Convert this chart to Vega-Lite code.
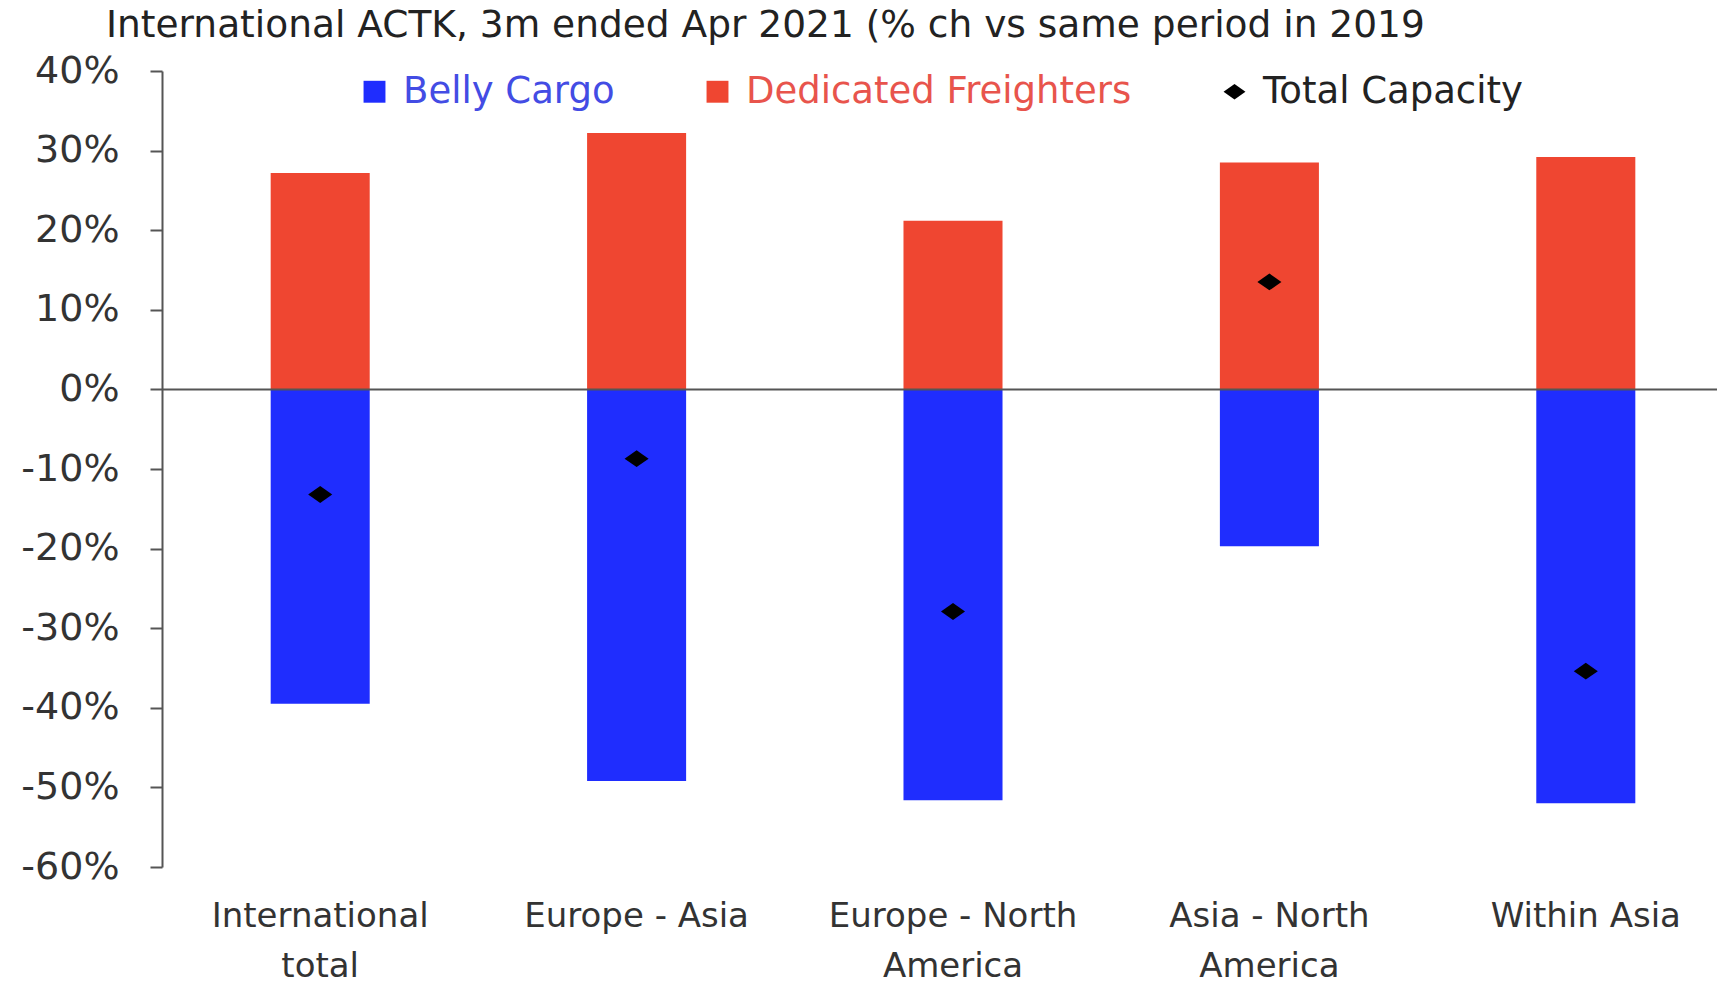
{
  "$schema": "https://vega.github.io/schema/vega-lite/v6.json",
  "autosize": "none",
  "width": 1582,
  "height": 796,
  "padding": {"left": 162, "top": 71, "right": 0, "bottom": 120},
  "background": "white",
  "view": {"stroke": null},
  "title": {
    "text": "International ACTK, 3m ended Apr 2021 (% ch vs same period in 2019",
    "anchor": "start",
    "frame": "group",
    "dx": -56,
    "offset": 8,
    "font": "DejaVu Sans",
    "fontSize": 37.5,
    "fontWeight": "normal",
    "color": "#222222"
  },
  "datasets": {
    "bars": [
      {"region": "International total", "series": "Belly Cargo", "value": -39.5},
      {"region": "International total", "series": "Dedicated Freighters", "value": 27.2},
      {"region": "Europe - Asia", "series": "Belly Cargo", "value": -49.2},
      {"region": "Europe - Asia", "series": "Dedicated Freighters", "value": 32.2},
      {"region": "Europe - North America", "series": "Belly Cargo", "value": -51.6},
      {"region": "Europe - North America", "series": "Dedicated Freighters", "value": 21.2},
      {"region": "Asia - North America", "series": "Belly Cargo", "value": -19.7},
      {"region": "Asia - North America", "series": "Dedicated Freighters", "value": 28.5},
      {"region": "Within Asia", "series": "Belly Cargo", "value": -52.0},
      {"region": "Within Asia", "series": "Dedicated Freighters", "value": 29.2}
    ],
    "total": [
      {"region": "International total", "series": "Total Capacity", "value": -13.2},
      {"region": "Europe - Asia", "series": "Total Capacity", "value": -8.7},
      {"region": "Europe - North America", "series": "Total Capacity", "value": -27.9},
      {"region": "Asia - North America", "series": "Total Capacity", "value": 13.5},
      {"region": "Within Asia", "series": "Total Capacity", "value": -35.4}
    ]
  },
  "layer": [
    {
      "data": {"name": "bars"},
      "mark": {"type": "bar"},
      "encoding": {
        "x": {
          "field": "region",
          "type": "nominal",
          "sort": ["International total", "Europe - Asia", "Europe - North America", "Asia - North America", "Within Asia"],
          "scale": {"paddingInner": 0.687, "paddingOuter": 0.3435},
          "axis": {
            "title": null,
            "domain": false,
            "ticks": false,
            "labelAngle": 0,
            "labelFont": "DejaVu Sans",
            "labelFontSize": 34,
            "labelColor": "#333333",
            "labelPadding": 32,
            "labelLineHeight": 50,
            "labelBaseline": "top",
            "labelLimit": 400,
            "labelExpr": "datum.value == 'International total' ? ['International', 'total'] : datum.value == 'Europe - North America' ? ['Europe - North', 'America'] : datum.value == 'Asia - North America' ? ['Asia - North', 'America'] : datum.value"
          }
        },
        "y": {
          "field": "value",
          "type": "quantitative",
          "stack": null,
          "scale": {"domain": [-60, 40], "nice": false},
          "axis": {
            "title": null,
            "values": [-60, -50, -40, -30, -20, -10, 0, 10, 20, 30, 40],
            "labelExpr": "datum.value + '%'",
            "grid": false,
            "domainColor": "#555555",
            "domainWidth": 2,
            "tickColor": "#555555",
            "tickWidth": 2,
            "tickSize": 12,
            "labelPadding": 31,
            "labelFont": "DejaVu Sans",
            "labelFontSize": 38,
            "labelColor": "#333333"
          }
        },
        "color": {
          "field": "series",
          "type": "nominal",
          "scale": {
            "domain": ["Belly Cargo", "Dedicated Freighters", "Total Capacity"],
            "range": ["#1f2dfe", "#ef4631", "#000000"]
          },
          "legend": {
            "title": null,
            "orient": "none",
            "direction": "horizontal",
            "legendX": 194,
            "legendY": 2,
            "columnPadding": 84,
            "symbolSize": 480,
            "symbolStrokeWidth": 0,
            "labelOffset": 10,
            "labelFont": "DejaVu Sans",
            "labelFontSize": 37,
            "labelLimit": 600,
            "encode": {
              "labels": {
                "update": {
                  "fill": {"signal": "datum.label === 'Belly Cargo' ? '#434ce4' : datum.label === 'Dedicated Freighters' ? '#e8544c' : '#222222'"}
                }
              }
            }
          }
        }
      }
    },
    {
      "data": {"values": [{"zero": 0}]},
      "mark": {"type": "rule", "color": "#555555", "strokeWidth": 2},
      "encoding": {"y": {"field": "zero", "type": "quantitative"}}
    },
    {
      "data": {"name": "total"},
      "mark": {"type": "point", "filled": true, "opacity": 1, "size": 580},
      "encoding": {
        "x": {
          "field": "region",
          "type": "nominal",
          "sort": ["International total", "Europe - Asia", "Europe - North America", "Asia - North America", "Within Asia"]
        },
        "y": {"field": "value", "type": "quantitative"},
        "color": {"field": "series", "type": "nominal"},
        "shape": {
          "field": "series",
          "type": "nominal",
          "scale": {
            "domain": ["Belly Cargo", "Dedicated Freighters", "Total Capacity"],
            "range": ["square", "square", "M-1,0L0,-0.7L1,0L0,0.7Z"]
          }
        }
      }
    }
  ]
}
